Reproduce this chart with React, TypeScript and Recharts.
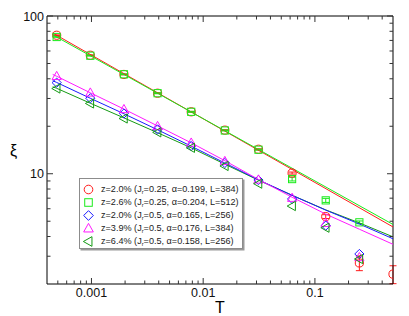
import React from 'react';
import { ScatterChart, Scatter, XAxis, YAxis, ErrorBar, Legend } from 'recharts';

// Temperatures (T = 2^-11 ... 2^-1)
const T_VALUES = [0.00048828125, 0.0009765625, 0.001953125, 0.00390625, 0.0078125, 0.015625, 0.03125, 0.0625, 0.125, 0.25, 0.5];

// Correlation length xi for each data set
const XI_Z20_J025 = [75.5, 56.4, 42.6, 32.4, 24.7, 18.9, 14.3, 10.1, 5.35, 2.72, 2.31];
const ERR_Z20_J025 = [0.4, 0.3, 0.25, 0.2, 0.15, 0.12, 0.1, 0.15, 0.15, 0.29, 0.3];
const XI_Z26_J025 = [73.6, 56.0, 42.7, 32.4, 24.7, 18.8, 14.2, 9.25, 6.78, 4.92];
const ERR_Z26_J025 = [0.3, 0.3, 0.25, 0.2, 0.15, 0.12, 0.1, 0.25, 0.2, 0.1];
const XI_Z20_J05 = [37.8, 30.1, 24.1, 19.1, 15.0, 11.7, 9.12, 6.92, 4.69, 3.1];
const XI_Z39_J05 = [41.5, 32.6, 25.6, 20.0, 15.7, 12.0, 9.16, 7.01, 4.86, 2.95];
const XI_Z64_J05 = [34.7, 27.9, 22.4, 18.3, 14.6, 11.2, 8.65, 6.24, 4.55, 2.88];

// Fit curves
const FIT_T_LINE = [0.00045, 0.5];
const FIT_Z20_J025 = [78.0, 4.6];
const FIT_Z26_J025 = [76.0, 4.77];
const FIT_T_CURVE = [0.00045, 0.00048828125, 0.0009765625, 0.001953125, 0.00390625, 0.0078125, 0.015625, 0.03125, 0.0625, 0.125, 0.25, 0.5];
const FIT_Z20_J05 = [38.9, 37.9, 30.1, 24.0, 19.0, 14.95, 11.7, 9.15, 7.3, 5.88, 4.8, 3.87];
const FIT_Z39_J05 = [42.6, 41.5, 32.6, 25.7, 20.1, 15.7, 12.1, 9.2, 7.1, 5.55, 4.45, 3.57];
const FIT_Z64_J05 = [35.6, 34.8, 28.0, 22.6, 18.2, 14.6, 11.5, 9.1, 7.3, 5.9, 4.88, 3.98];

// Legend labels
const LABEL_Z = ['2.0%', '2.6%', '2.0%', '3.9%', '6.4%'];
const LABEL_JR = ['0.25', '0.25', '0.5', '0.5', '0.5'];
const LABEL_ALPHA = ['0.199', '0.204', '0.165', '0.176', '0.158'];
const LABEL_L = ['384', '512', '256', '384', '256'];

// Ticks
const X_TICKS = [0.0005, 0.0006, 0.0007, 0.0008, 0.0009, 0.001, 0.002, 0.003, 0.004, 0.005, 0.006, 0.007, 0.008, 0.009, 0.01, 0.02, 0.03, 0.04, 0.05, 0.06, 0.07, 0.08, 0.09, 0.1, 0.2, 0.3, 0.4];
const Y_TICKS = [3, 4, 5, 6, 7, 8, 9, 10, 20, 30, 40, 50, 60, 70, 80, 90, 100];

const COLORS = ['#ff1a1a', '#1aeb1a', '#1a1aff', '#ff1aff', '#139a13'];
const SHAPES = ['circle', 'square', 'diamond', 'triangle', 'left'];
const FONT = '"Liberation Sans", Arial, Helvetica, sans-serif';

const build = (xs: number[], ys: number[], errs?: number[]) =>
  ys.map((y, i) => ({ T: xs[i], xi: y, err: errs ? errs[i] : 0 }));

const isMajor = (v: number) => {
  const l = Math.log10(v);
  return Math.abs(l - Math.round(l)) < 1e-6;
};

function MarkerShape({ kind, cx, cy, color, s = 1 }: any) {
  const common = { fill: 'none', stroke: color, strokeWidth: 1 };
  if (kind === 'circle') return <circle cx={cx} cy={cy} r={4.1 * s} {...common} />;
  if (kind === 'square') return <rect x={cx - 3.6 * s} y={cy - 3.6 * s} width={7.2 * s} height={7.2 * s} {...common} />;
  if (kind === 'diamond') {
    const d = 4.6 * s;
    return <polygon points={`${cx},${cy - d} ${cx + d},${cy} ${cx},${cy + d} ${cx - d},${cy}`} {...common} />;
  }
  if (kind === 'triangle') {
    return <polygon points={`${cx},${cy - 4.9 * s} ${cx + 4.6 * s},${cy + 3.3 * s} ${cx - 4.6 * s},${cy + 3.3 * s}`} {...common} />;
  }
  return <polygon points={`${cx - 4.9 * s},${cy} ${cx + 3.3 * s},${cy - 4.6 * s} ${cx + 3.3 * s},${cy + 4.6 * s}`} {...common} />;
}

const makeShape = (i: number) => (p: any) => (
  <MarkerShape kind={SHAPES[i]} cx={p.cx} cy={p.cy} color={COLORS[i]} />
);
const noShape = () => <g />;

const BottomTick = (p: any) => {
  const { x, y, payload } = p;
  const v = payload.value;
  const major = isMajor(v);
  return (
    <g>
      <line x1={x} y1={y} x2={x} y2={y - (major ? 6 : 3.5)} stroke="#333" strokeWidth={1} />
      {major && (
        <text x={x} y={y + 13} textAnchor="middle" fontSize={12.5} fontFamily={FONT} fill="#111">
          {String(v)}
        </text>
      )}
    </g>
  );
};
const TopTick = (p: any) => {
  const { x, y, payload } = p;
  const major = isMajor(payload.value);
  return <line x1={x} y1={y} x2={x} y2={y + (major ? 6 : 3.5)} stroke="#333" strokeWidth={1} />;
};
const LeftTick = (p: any) => {
  const { x, y, payload } = p;
  const v = payload.value;
  const major = isMajor(v);
  return (
    <g>
      <line x1={x} y1={y} x2={x + (major ? 6 : 3.5)} y2={y} stroke="#333" strokeWidth={1} />
      {major && (
        <text x={x - 3} y={y + 4.5} textAnchor="end" fontSize={12.5} fontFamily={FONT} fill="#111">
          {String(v)}
        </text>
      )}
    </g>
  );
};
const RightTick = (p: any) => {
  const { x, y, payload } = p;
  const major = isMajor(payload.value);
  return <line x1={x} y1={y} x2={x - (major ? 6 : 3.5)} y2={y} stroke="#333" strokeWidth={1} />;
};

const LegendBox = () => (
  <div
    style={{
      position: 'relative',
      width: 164,
      height: 71,
      boxSizing: 'border-box',
      border: '1px solid #8c8c8c',
      boxShadow: '1.5px 1.5px 0 #9a9a9a',
      background: '#fff',
      fontFamily: FONT,
      fontSize: 9.1,
      color: '#222',
    }}
  >
    {LABEL_Z.map((z, i) => (
      <div
        key={i}
        style={{ position: 'absolute', left: 0, top: 3.5 + i * 13, height: 13, display: 'flex', alignItems: 'center', whiteSpace: 'nowrap' }}
      >
        <svg width={21} height={13} style={{ display: 'block' }}>
          <MarkerShape kind={SHAPES[i]} cx={8.5} cy={6.5} color={COLORS[i]} s={1.05} />
        </svg>
        <span>
          z={z} (J<span style={{ fontSize: '0.62em', position: 'relative', top: '0.35em' }}>r</span>={LABEL_JR[i]}, α={LABEL_ALPHA[i]}, L={LABEL_L[i]})
        </span>
      </div>
    ))}
  </div>
);

const DATA_SETS = [
  build(T_VALUES, XI_Z20_J025, ERR_Z20_J025),
  build(T_VALUES, XI_Z26_J025, ERR_Z26_J025),
  build(T_VALUES, XI_Z20_J05),
  build(T_VALUES, XI_Z39_J05),
  build(T_VALUES, XI_Z64_J05),
];
const FIT_SETS = [
  build(FIT_T_LINE, FIT_Z20_J025),
  build(FIT_T_LINE, FIT_Z26_J025),
  build(FIT_T_CURVE, FIT_Z20_J05),
  build(FIT_T_CURVE, FIT_Z39_J05),
  build(FIT_T_CURVE, FIT_Z64_J05),
];
const FIT_ORDER = [4, 2, 3, 0, 1];

export default function App() {
  return (
    <div style={{ position: 'absolute', left: 0, top: 0, width: 409, height: 316, background: '#fff' }}>
      <ScatterChart width={409} height={316} margin={{ top: 0, right: 0, bottom: 0, left: 0 }}>
        <XAxis
          dataKey="T"
          type="number"
          scale="log"
          domain={[0.0004, 0.5]}
          allowDataOverflow
          ticks={X_TICKS}
          interval={0}
          height={32}
          tickLine={false}
          tickSize={0}
          tickMargin={0}
          tick={BottomTick}
          axisLine={{ stroke: '#000' }}
          label={{ value: 'T', position: 'insideBottom', offset: 3, fontSize: 16, fill: '#000', fontFamily: FONT }}
        />
        <XAxis
          xAxisId="top"
          orientation="top"
          dataKey="T"
          type="number"
          scale="log"
          domain={[0.0004, 0.5]}
          allowDataOverflow
          ticks={X_TICKS}
          interval={0}
          height={16}
          tickLine={false}
          tickSize={0}
          tickMargin={0}
          tick={TopTick}
          axisLine={{ stroke: '#000' }}
        />
        <YAxis
          dataKey="xi"
          type="number"
          scale="log"
          domain={[2, 100]}
          allowDataOverflow
          ticks={Y_TICKS}
          interval={0}
          width={47}
          tickLine={false}
          tickSize={0}
          tickMargin={0}
          tick={LeftTick}
          axisLine={{ stroke: '#000' }}
          label={{ value: 'ξ', position: 'insideLeft', offset: 10, fontSize: 16, fill: '#000', fontFamily: FONT }}
        />
        <YAxis
          yAxisId="right"
          orientation="right"
          dataKey="xi"
          type="number"
          scale="log"
          domain={[2, 100]}
          allowDataOverflow
          ticks={Y_TICKS}
          interval={0}
          width={16}
          tickLine={false}
          tickSize={0}
          tickMargin={0}
          tick={RightTick}
          axisLine={{ stroke: '#000' }}
        />
        {FIT_ORDER.map((i) => (
          <Scatter
            key={'fit' + i}
            data={FIT_SETS[i]}
            dataKey="xi"
            line={{ stroke: COLORS[i], strokeWidth: 1 }}
            lineType="joint"
            shape={noShape}
            legendType="none"
            isAnimationActive={false}
          />
        ))}
        {DATA_SETS.map((d, i) => (
          <Scatter key={'data' + i} data={d} dataKey="xi" shape={makeShape(i)} isAnimationActive={false}>
            {i < 2 && <ErrorBar dataKey="err" direction="y" width={3.5} stroke={COLORS[i]} strokeWidth={1} />}
          </Scatter>
        ))}
        <Legend
          layout="vertical"
          verticalAlign="middle"
          align="center"
          content={LegendBox}
          wrapperStyle={{ left: 79, top: 178, width: 164, height: 71 }}
        />
      </ScatterChart>
    </div>
  );
}
